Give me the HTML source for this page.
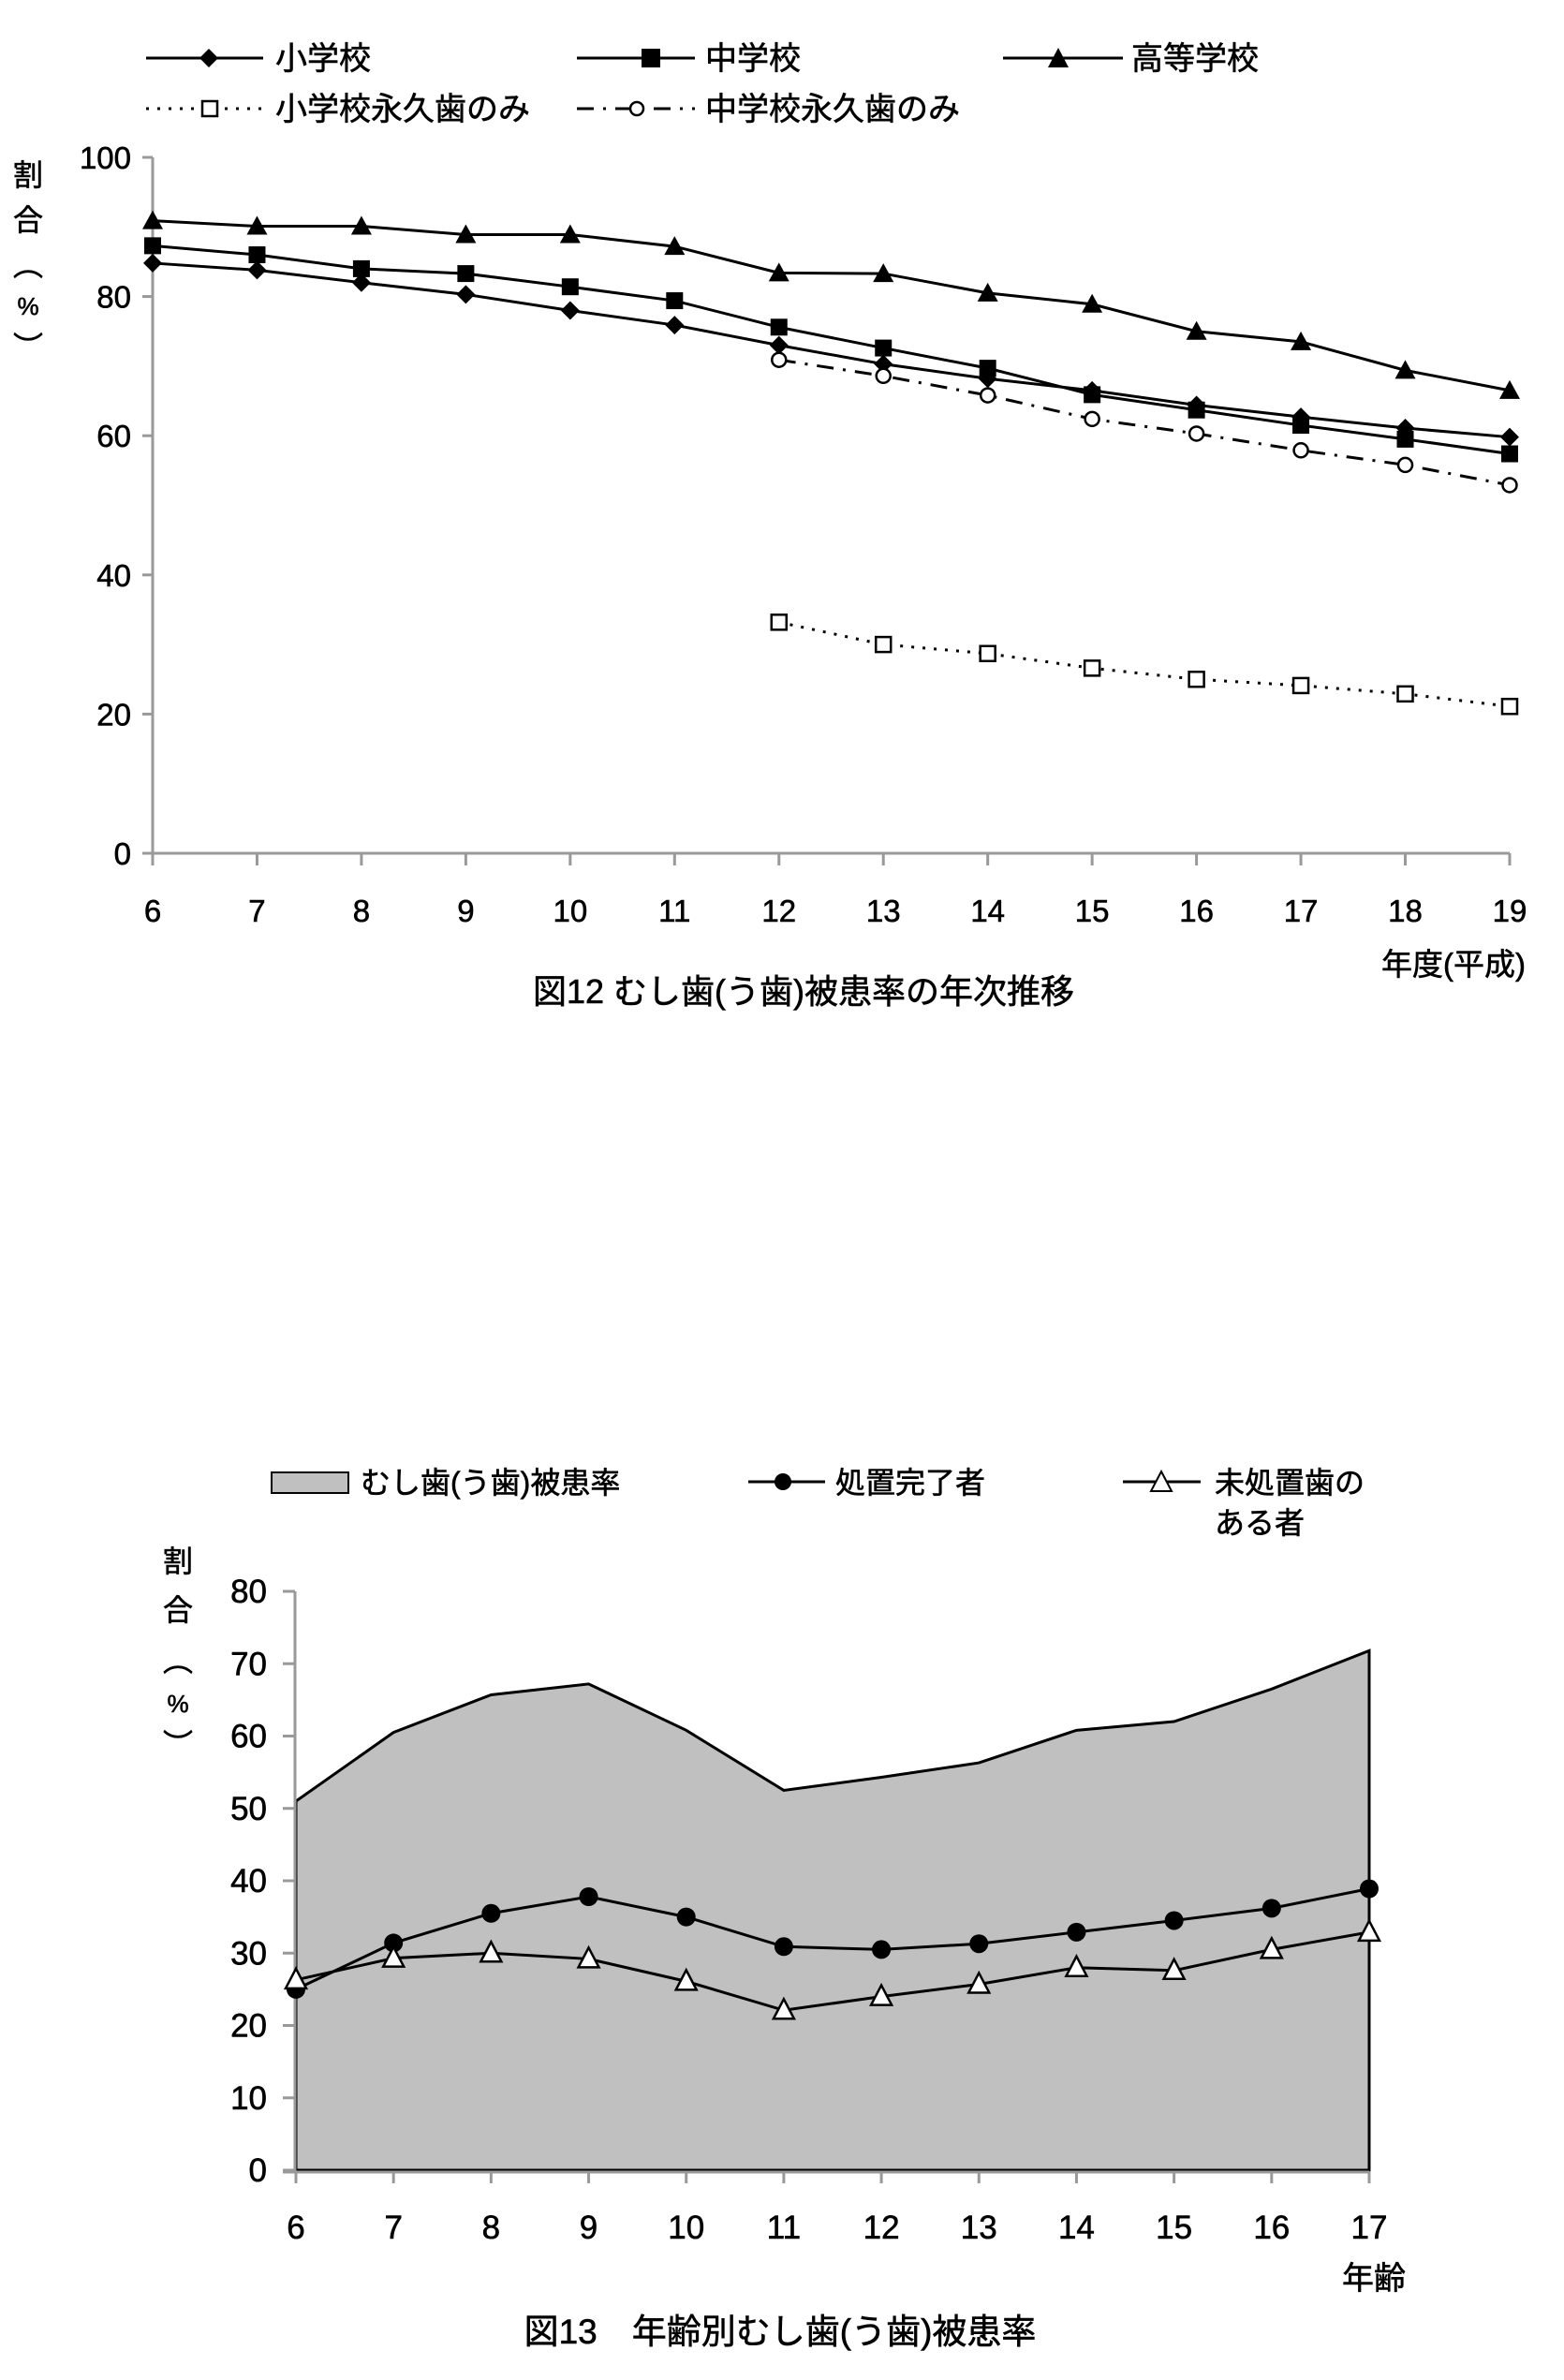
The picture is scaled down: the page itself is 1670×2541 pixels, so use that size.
<!DOCTYPE html>
<html><head><meta charset="utf-8"><style>
html,body{margin:0;padding:0;background:#fff;}
svg{display:block;}
text{font-family:"Liberation Sans","Noto Sans CJK JP",sans-serif;fill:#000;stroke:#000;stroke-width:0.6;}
</style></head><body>
<svg id="s" width="1670" height="2541" viewBox="0 0 1670 2541" xmlns="http://www.w3.org/2000/svg">
<g stroke="#000" stroke-width="3" fill="none">
<line x1="156" y1="62" x2="281" y2="62"/>
<line x1="616" y1="62" x2="742" y2="62"/>
<line x1="1071" y1="62" x2="1199" y2="62"/>
<line x1="156" y1="116" x2="281" y2="116" stroke-dasharray="3,9"/>
<line x1="616" y1="116" x2="742" y2="116" stroke-dasharray="18,10,3,10"/>
</g>
<polygon points="223,52 233,62 223,72 213,62" fill="#000"/>
<rect x="685" y="52" width="20" height="20" fill="#000"/>
<polygon points="1130,51 1141,72 1119,72" fill="#000"/>
<rect x="216" y="108" width="16" height="16" fill="#fff" stroke="#000" stroke-width="2.5"/>
<circle cx="680" cy="116" r="7" fill="#fff" stroke="#000" stroke-width="2.5"/>
<g font-size="34">
<text x="294" y="74">小学校</text>
<text x="753" y="74">中学校</text>
<text x="1208" y="74">高等学校</text>
<text x="294" y="128">小学校永久歯のみ</text>
<text x="753" y="128">中学校永久歯のみ</text>
</g>
<g stroke="#999" stroke-width="3" id="ax1"></g>
<g font-size="33" text-anchor="end" id="yl1"></g>
<g font-size="33" text-anchor="middle" id="xl1"></g>
<g font-size="32" text-anchor="middle">
<text x="30" y="198">割</text><text x="30" y="246">合</text>
<text x="30" y="294">︵</text><text x="30" y="336" font-size="26">%</text><text x="30" y="382">︶</text>
</g>
<text x="1552" y="1041" font-size="33" text-anchor="middle">年度(平成)</text>
<text x="858" y="1071" font-size="36" text-anchor="middle">図12  むし歯(う歯)被患率の年次推移</text>
<g id="c1"></g>

<rect x="290" y="1572" width="82" height="22" fill="#c0c0c0" stroke="#000" stroke-width="2"/>
<line x1="799" y1="1582" x2="881" y2="1582" stroke="#000" stroke-width="3"/>
<circle cx="836" cy="1582" r="9" fill="#000"/>
<line x1="1199" y1="1582" x2="1282" y2="1582" stroke="#000" stroke-width="3"/>
<polygon points="1240,1571 1251,1592 1229,1592" fill="#fff" stroke="#000" stroke-width="2"/>
<g font-size="32">
<text x="385" y="1594">むし歯(う歯)被患率</text>
<text x="892" y="1594">処置完了者</text>
<text x="1297" y="1594">未処置歯の</text>
<text x="1297" y="1637">ある者</text>
</g>
<g font-size="32" text-anchor="middle">
<text x="190" y="1678">割</text><text x="190" y="1730">合</text>
<text x="190" y="1784">︵</text><text x="190" y="1828" font-size="26">%</text><text x="190" y="1874">︶</text>
</g>
<g id="c2"></g>
<g font-size="35" text-anchor="end" id="yl2"></g>
<g font-size="35" text-anchor="middle" id="xl2"></g>
<text x="1467" y="2444" font-size="34" text-anchor="middle">年齢</text>
<text x="833" y="2502" font-size="37" text-anchor="middle">図13　年齢別むし歯(う歯)被患率</text>
</svg>
<script>
var NS="http://www.w3.org/2000/svg";
function el(p,t,a){var e=document.createElementNS(NS,t);for(var k in a)e.setAttribute(k,a[k]);p.appendChild(e);return e;}
var $=function(i){return document.getElementById(i);};
var X1=function(y){return 163+111.46*(y-6);},Y1=function(v){return 911-7.43*v;};
var ax=$("ax1");
el(ax,"line",{x1:163,y1:168,x2:163,y2:911});
el(ax,"line",{x1:152,y1:911,x2:1612,y2:911});
for(var v=0;v<=100;v+=20){el(ax,"line",{x1:152,y1:Y1(v),x2:163,y2:Y1(v)});var t=el($("yl1"),"text",{x:140,y:Y1(v)+12});t.textContent=v;}
for(var y=6;y<=19;y++){el(ax,"line",{x1:X1(y),y1:911,x2:X1(y),y2:924});var t=el($("xl1"),"text",{x:X1(y),y:984});t.textContent=y;}
var c1=$("c1");
function series(g,xs,vals,X,Y,style){var p=[];for(var i=0;i<vals.length;i++)p.push(X(xs[i])+","+Y(vals[i]));
var a={points:p.join(" "),fill:"none",stroke:"#000","stroke-width":3};for(var k in style)a[k]=style[k];el(g,"polyline",a);}
var yrs=[];for(var y=6;y<=19;y++)yrs.push(y);
var yrs2=[];for(var y=12;y<=19;y++)yrs2.push(y);
var sho=[84.8,83.8,82,80.3,78,75.9,73,70.3,68.2,66.5,64.4,62.7,61.1,59.8];
var chu=[87.3,86,84,83.3,81.4,79.4,75.6,72.6,69.7,65.9,63.7,61.5,59.5,57.4];
var kou=[90.9,90.1,90.1,88.9,88.9,87.2,83.4,83.3,80.5,78.9,75,73.5,69.4,66.5];
var se=[33.2,30,28.7,26.6,25,24.1,22.9,21.1];
var ce=[70.9,68.6,65.8,62.4,60.3,57.9,55.8,52.9];
series(c1,yrs,sho,X1,Y1,{});series(c1,yrs,chu,X1,Y1,{});series(c1,yrs,kou,X1,Y1,{});
series(c1,yrs2,se,X1,Y1,{"stroke-dasharray":"3,9"});
series(c1,yrs2,ce,X1,Y1,{"stroke-dasharray":"18,10,3,10"});
for(var i=0;i<14;i++){var x=X1(yrs[i]);
var y=Y1(sho[i]);el(c1,"polygon",{points:(x)+","+(y-10)+" "+(x+10)+","+y+" "+x+","+(y+10)+" "+(x-10)+","+y,fill:"#000"});
y=Y1(chu[i]);el(c1,"rect",{x:x-9,y:y-9,width:18,height:18,fill:"#000"});
y=Y1(kou[i]);el(c1,"polygon",{points:x+","+(y-11)+" "+(x+11)+","+(y+9)+" "+(x-11)+","+(y+9),fill:"#000"});}
for(var i=0;i<8;i++){var x=X1(yrs2[i]);
el(c1,"rect",{x:x-8,y:Y1(se[i])-8,width:16,height:16,fill:"#fff",stroke:"#000","stroke-width":2.5});
el(c1,"circle",{cx:x,cy:Y1(ce[i]),r:7.5,fill:"#fff",stroke:"#000","stroke-width":2.5});}
var X2=function(a){return 316+104.18*(a-6);},Y2=function(v){return 2317-7.725*v;};
var ages=[];for(var a=6;a<=17;a++)ages.push(a);
var area=[51,60.5,65.7,67.2,60.8,52.5,54.3,56.3,60.8,62,66.5,71.8];
var sh=[25,31.4,35.5,37.8,35,30.9,30.5,31.3,32.9,34.5,36.2,38.9];
var mi=[26.3,29.3,30.0,29.2,26.1,22.1,24.0,25.7,28.0,27.6,30.5,32.9];
var c2=$("c2");
var p=[X2(6)+","+Y2(0)];for(var i=0;i<12;i++)p.push(X2(ages[i])+","+Y2(area[i]));p.push(X2(17)+","+Y2(0));
el(c2,"polygon",{points:p.join(" "),fill:"#c0c0c0",stroke:"#000","stroke-width":3});
el(c2,"line",{x1:315,y1:1699,x2:315,y2:2320,stroke:"#999","stroke-width":3});
el(c2,"line",{x1:302,y1:2319,x2:1462,y2:2319,stroke:"#999","stroke-width":3});
for(var v=0;v<=80;v+=10){el(c2,"line",{x1:302,y1:Y2(v),x2:315,y2:Y2(v),stroke:"#999","stroke-width":3});var t=el($("yl2"),"text",{x:285,y:Y2(v)+12});t.textContent=v;}
for(var a=6;a<=17;a++){el(c2,"line",{x1:X2(a),y1:2319,x2:X2(a),y2:2331,stroke:"#999","stroke-width":3});var t=el($("xl2"),"text",{x:X2(a),y:2390});t.textContent=a;}
series(c2,ages,sh,X2,Y2,{});series(c2,ages,mi,X2,Y2,{});
for(var i=0;i<12;i++){var x=X2(ages[i]);
el(c2,"circle",{cx:x,cy:Y2(sh[i]),r:10,fill:"#000"});
var y=Y2(mi[i]);el(c2,"polygon",{points:x+","+(y-12)+" "+(x+11)+","+(y+9)+" "+(x-11)+","+(y+9),fill:"#fff",stroke:"#000","stroke-width":2.5});}
</script>
</body></html>
